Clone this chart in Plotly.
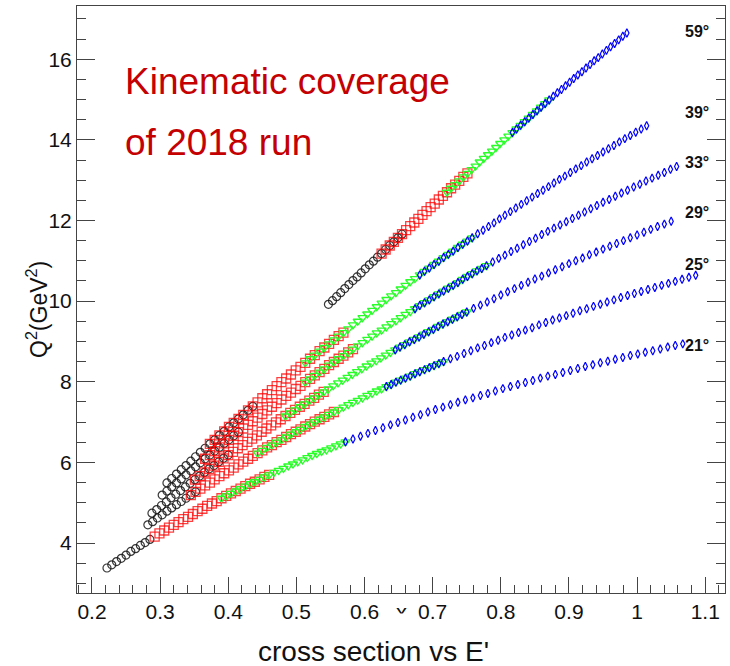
import plotly.graph_objects as go

# ---------------- data: (x, Q^2) kinematic points per spectrometer angle ----------------
angles = ["21°", "25°", "29°", "33°", "39°", "59°"]

pts_21 = [(0.222,3.38),(0.229,3.46),(0.236,3.54),(0.243,3.62),(0.250,3.70),(0.257,3.79),(0.264,3.86),(0.271,3.94),(0.278,4.01),(0.285,4.09),
          (0.292,4.16),(0.299,4.24),(0.306,4.31),(0.313,4.38),(0.320,4.45),(0.327,4.52),(0.334,4.59),(0.341,4.65),(0.348,4.72),(0.355,4.79),
          (0.362,4.85),(0.369,4.92),(0.376,4.98),(0.383,5.04),(0.390,5.11),(0.397,5.17),(0.404,5.23),(0.411,5.29),(0.418,5.35),(0.425,5.41),
          (0.432,5.47),(0.439,5.52),(0.446,5.58),(0.453,5.64),(0.460,5.69),(0.467,5.75),(0.474,5.80),(0.481,5.85),(0.488,5.91),(0.495,5.96),
          (0.502,6.01),(0.509,6.06),(0.516,6.12),(0.523,6.17),(0.530,6.22),(0.537,6.27),(0.544,6.31),(0.551,6.36),(0.558,6.41),(0.565,6.46),
          (0.572,6.51),(0.583,6.58),(0.594,6.65),(0.605,6.72),(0.616,6.79),(0.627,6.86),(0.638,6.93),(0.649,6.99),(0.660,7.05),(0.671,7.12),
          (0.682,7.18),(0.693,7.25),(0.704,7.31),(0.715,7.37),(0.726,7.43),(0.737,7.49),(0.748,7.55),(0.759,7.60),(0.770,7.66),(0.781,7.71),
          (0.792,7.77),(0.803,7.83),(0.814,7.88),(0.825,7.93),(0.836,7.98),(0.847,8.03),(0.858,8.09),(0.869,8.14),(0.880,8.18),(0.891,8.23),
          (0.902,8.28),(0.913,8.33),(0.924,8.38),(0.935,8.42),(0.946,8.47),(0.957,8.51),(0.968,8.56),(0.979,8.60),(0.990,8.65),(1.001,8.69),
          (1.012,8.73),(1.023,8.77),(1.034,8.81),(1.045,8.86),(1.056,8.90),(1.067,8.94)]

pts_25 = [(0.282,4.45),(0.289,4.53),(0.296,4.62),(0.303,4.70),(0.310,4.79),(0.317,4.87),(0.324,4.95),(0.331,5.03),(0.338,5.11),(0.345,5.19),
          (0.352,5.27),(0.359,5.35),(0.366,5.43),(0.373,5.50),(0.380,5.58),(0.387,5.66),(0.394,5.73),(0.401,5.80),(0.408,5.87),(0.415,5.95),
          (0.422,6.02),(0.429,6.09),(0.436,6.16),(0.443,6.23),(0.450,6.30),(0.457,6.37),(0.464,6.43),(0.471,6.50),(0.478,6.56),(0.485,6.63),
          (0.492,6.70),(0.499,6.76),(0.506,6.82),(0.513,6.89),(0.520,6.95),(0.527,7.01),(0.534,7.07),(0.541,7.13),(0.548,7.19),(0.555,7.25),
          (0.562,7.31),(0.569,7.37),(0.576,7.43),(0.583,7.49),(0.590,7.54),(0.597,7.60),(0.604,7.66),(0.611,7.71),(0.618,7.77),(0.625,7.82),
          (0.632,7.88),(0.639,7.93),(0.646,7.99),(0.653,8.04),(0.660,8.09),(0.667,8.14),(0.674,8.20),(0.681,8.25),(0.688,8.30),(0.695,8.35),
          (0.702,8.40),(0.709,8.45),(0.716,8.50),(0.726,8.57),(0.736,8.63),(0.746,8.70),(0.756,8.77),(0.766,8.84),(0.776,8.90),(0.786,8.97),
          (0.796,9.03),(0.806,9.10),(0.816,9.16),(0.826,9.22),(0.836,9.28),(0.846,9.34),(0.856,9.41),(0.866,9.47),(0.876,9.53),(0.886,9.58),
          (0.896,9.64),(0.906,9.70),(0.916,9.76),(0.926,9.81),(0.936,9.87),(0.946,9.92),(0.956,9.98),(0.966,10.03),(0.976,10.09),(0.986,10.14),
          (0.996,10.19),(1.006,10.24),(1.016,10.29),(1.026,10.34),(1.036,10.39),(1.046,10.44),(1.056,10.49),(1.066,10.54),(1.076,10.59),(1.086,10.64)]

pts_29 = [(0.288,4.74),(0.295,4.83),(0.302,4.93),(0.309,5.02),(0.316,5.12),(0.323,5.21),(0.330,5.30),(0.337,5.39),(0.344,5.48),(0.351,5.57),
          (0.358,5.66),(0.365,5.75),(0.372,5.84),(0.379,5.92),(0.386,6.01),(0.393,6.10),(0.400,6.18),(0.407,6.26),(0.414,6.35),(0.421,6.43),
          (0.428,6.51),(0.435,6.59),(0.442,6.67),(0.449,6.76),(0.456,6.84),(0.463,6.92),(0.470,6.99),(0.477,7.07),(0.484,7.15),(0.491,7.23),
          (0.498,7.30),(0.505,7.38),(0.512,7.45),(0.519,7.53),(0.526,7.60),(0.533,7.68),(0.540,7.75),(0.547,7.82),(0.554,7.90),(0.561,7.97),
          (0.568,8.04),(0.575,8.11),(0.582,8.18),(0.589,8.25),(0.596,8.32),(0.603,8.39),(0.610,8.46),(0.617,8.52),(0.624,8.59),(0.631,8.66),
          (0.638,8.73),(0.645,8.79),(0.652,8.86),(0.659,8.92),(0.666,8.99),(0.673,9.05),(0.680,9.11),(0.687,9.18),(0.694,9.24),(0.701,9.30),
          (0.708,9.37),(0.715,9.43),(0.722,9.49),(0.729,9.55),(0.736,9.61),(0.743,9.67),(0.750,9.73),(0.760,9.82),(0.770,9.90),(0.780,9.98),
          (0.790,10.06),(0.800,10.15),(0.810,10.23),(0.820,10.31),(0.830,10.39),(0.840,10.47),(0.850,10.55),(0.860,10.62),(0.870,10.70),(0.880,10.78),
          (0.890,10.85),(0.900,10.93),(0.910,11.00),(0.920,11.07),(0.930,11.15),(0.940,11.22),(0.950,11.29),(0.960,11.36),(0.970,11.43),(0.980,11.50),
          (0.990,11.57),(1.000,11.64),(1.010,11.71),(1.020,11.78),(1.030,11.85),(1.040,11.91),(1.050,11.98)]

pts_33 = [(0.303,5.19),(0.310,5.29),(0.317,5.39),(0.324,5.49),(0.331,5.59),(0.338,5.69),(0.345,5.79),(0.352,5.89),(0.359,5.99),(0.366,6.09),
          (0.373,6.18),(0.380,6.28),(0.387,6.37),(0.394,6.47),(0.401,6.56),(0.408,6.66),(0.415,6.75),(0.422,6.84),(0.429,6.93),(0.436,7.02),
          (0.443,7.11),(0.450,7.20),(0.457,7.29),(0.464,7.38),(0.471,7.47),(0.478,7.56),(0.485,7.65),(0.492,7.73),(0.499,7.82),(0.506,7.90),
          (0.513,7.99),(0.520,8.07),(0.527,8.16),(0.534,8.24),(0.541,8.32),(0.548,8.41),(0.555,8.49),(0.562,8.57),(0.569,8.65),(0.576,8.73),
          (0.583,8.81),(0.590,8.89),(0.597,8.97),(0.604,9.05),(0.611,9.13),(0.618,9.21),(0.625,9.28),(0.632,9.36),(0.639,9.44),(0.646,9.51),
          (0.653,9.59),(0.660,9.67),(0.667,9.74),(0.674,9.81),(0.681,9.89),(0.688,9.96),(0.695,10.03),(0.702,10.11),(0.709,10.18),(0.716,10.25),
          (0.723,10.32),(0.730,10.39),(0.737,10.46),(0.744,10.54),(0.751,10.61),(0.758,10.68),(0.765,10.75),(0.772,10.81),(0.779,10.88),(0.788,10.97),
          (0.797,11.06),(0.806,11.14),(0.815,11.23),(0.824,11.31),(0.833,11.40),(0.842,11.48),(0.851,11.56),(0.860,11.65),(0.869,11.73),(0.878,11.81),
          (0.887,11.89),(0.896,11.97),(0.905,12.05),(0.914,12.13),(0.923,12.21),(0.932,12.29),(0.941,12.37),(0.950,12.45),(0.959,12.52),(0.968,12.60),
          (0.977,12.68),(0.986,12.75),(0.995,12.83),(1.004,12.90),(1.013,12.98),(1.022,13.05),(1.031,13.12),(1.040,13.19),(1.049,13.27),(1.058,13.34)]

pts_39 = [(0.310,5.49),(0.317,5.60),(0.324,5.71),(0.331,5.82),(0.338,5.92),(0.345,6.03),(0.352,6.14),(0.359,6.25),(0.366,6.35),(0.373,6.46),
          (0.380,6.56),(0.387,6.67),(0.394,6.77),(0.401,6.88),(0.408,6.98),(0.415,7.08),(0.422,7.18),(0.429,7.29),(0.436,7.39),(0.443,7.49),
          (0.450,7.59),(0.457,7.69),(0.464,7.79),(0.471,7.89),(0.478,7.99),(0.485,8.08),(0.492,8.18),(0.499,8.28),(0.506,8.37),(0.513,8.47),
          (0.520,8.57),(0.527,8.66),(0.534,8.76),(0.541,8.85),(0.548,8.94),(0.555,9.04),(0.562,9.13),(0.569,9.22),(0.576,9.31),(0.583,9.41),
          (0.590,9.50),(0.597,9.59),(0.604,9.68),(0.611,9.77),(0.618,9.86),(0.625,9.95),(0.632,10.04),(0.639,10.13),(0.646,10.21),(0.653,10.30),
          (0.660,10.39),(0.667,10.48),(0.674,10.56),(0.681,10.65),(0.688,10.74),(0.695,10.82),(0.702,10.91),(0.709,10.99),(0.716,11.08),(0.723,11.16),
          (0.730,11.24),(0.737,11.33),(0.744,11.41),(0.751,11.49),(0.758,11.57),(0.766,11.67),(0.774,11.76),(0.782,11.85),(0.790,11.94),(0.798,12.04),
          (0.806,12.13),(0.814,12.22),(0.822,12.31),(0.830,12.40),(0.838,12.49),(0.846,12.58),(0.854,12.67),(0.862,12.75),(0.870,12.84),(0.878,12.93),
          (0.886,13.02),(0.894,13.10),(0.902,13.19),(0.910,13.28),(0.918,13.36),(0.926,13.45),(0.934,13.53),(0.942,13.61),(0.950,13.70),(0.958,13.78),
          (0.966,13.86),(0.974,13.95),(0.982,14.03),(0.990,14.11),(0.998,14.19),(1.006,14.27),(1.014,14.35)]

pts_59 = [(0.547,9.92),(0.553,10.01),(0.559,10.11),(0.565,10.21),(0.571,10.31),(0.577,10.41),(0.583,10.51),(0.589,10.60),(0.595,10.70),(0.601,10.80),
          (0.607,10.90),(0.613,10.99),(0.619,11.09),(0.625,11.18),(0.631,11.28),(0.637,11.38),(0.643,11.47),(0.649,11.57),(0.655,11.66),(0.661,11.76),
          (0.667,11.86),(0.673,11.95),(0.679,12.04),(0.685,12.14),(0.691,12.23),(0.697,12.33),(0.703,12.42),(0.709,12.52),(0.715,12.61),(0.721,12.70),
          (0.727,12.80),(0.733,12.89),(0.739,12.98),(0.745,13.08),(0.751,13.17),(0.757,13.26),(0.763,13.35),(0.769,13.45),(0.775,13.54),(0.781,13.63),
          (0.787,13.72),(0.793,13.81),(0.799,13.91),(0.805,14.00),(0.811,14.09),(0.817,14.18),(0.823,14.27),(0.829,14.36),(0.835,14.45),(0.841,14.54),
          (0.847,14.63),(0.853,14.72),(0.859,14.81),(0.865,14.90),(0.871,14.99),(0.877,15.08),(0.883,15.17),(0.889,15.25),(0.895,15.34),(0.901,15.43),
          (0.907,15.52),(0.913,15.61),(0.919,15.69),(0.925,15.78),(0.931,15.87),(0.937,15.96),(0.943,16.04),(0.949,16.13),(0.955,16.22),(0.961,16.31),
          (0.967,16.39),(0.973,16.48),(0.979,16.57),(0.985,16.65)]

points = [pts_21, pts_25, pts_29, pts_33, pts_39, pts_59]

# x coverage of each run setting, per angle (same order as `angles`)
cover_black = [(0.222, 0.288), (0.282, 0.355), (0.288, 0.400), (0.303, 0.420), (0.310, 0.440), (0.547, 0.660)]
cover_red   = [(0.288, 0.461), (0.340, 0.560), (0.350, 0.542), (0.360, 0.583), (0.370, 0.569), (0.620, 0.751)]
cover_green = [(0.385, 0.572), (0.442, 0.716), (0.479, 0.751), (0.510, 0.781), (0.510, 0.758), (0.721, 0.873)]
cover_blue  = [(0.572, 1.070), (0.627, 1.090), (0.645, 1.050), (0.674, 1.060), (0.677, 1.020), (0.814, 0.990)]

# angle labels: Q^2 where each label sits at the right edge
label_x = 1.088
label_q2 = [8.91, 10.90, 12.19, 13.43, 14.67, 16.68]

# ---------------- figure ----------------
FONT = "Liberation Sans, Arial, Helvetica, sans-serif"

styles = [
    ("black", cover_black, dict(symbol="circle-open", size=8, color="rgba(20,20,20,0.85)", line=dict(width=1.2))),
    ("red",   cover_red,   dict(symbol="square-open", size=9, color="rgba(255,0,0,0.75)", line=dict(width=1.3))),
    ("green", cover_green, dict(symbol="triangle-down-open", size=8, color="rgb(40,255,40)", line=dict(width=1.3))),
    ("blue",  cover_blue,  dict(symbol="diamond-tall-open", size=6, color="rgb(0,0,255)", line=dict(width=1.2))),
]

fig = go.Figure()
for name, cover, mk in styles:
    xs, ys = [], []
    for pts, (lo, hi) in zip(points, cover):
        for x, q in pts:
            if lo - 1e-9 <= x <= hi + 1e-9:
                xs.append(x)
                ys.append(q)
    fig.add_trace(go.Scatter(x=xs, y=ys, mode="markers", name=name, marker=mk,
                             showlegend=False, hoverinfo="skip"))

annotations = []
for a, q in zip(angles, label_q2):
    annotations.append(dict(x=label_x, y=q, xref="x", yref="y", text="<b>%s</b>" % a,
                            showarrow=False, xanchor="center", yanchor="middle",
                            font=dict(family=FONT, size=16, color="#111")))

# title block
annotations.append(dict(x=0.071, y=(593 - 81) / 587, xref="paper", yref="paper", text="Kinematic coverage",
                        showarrow=False, xanchor="left", yanchor="middle",
                        font=dict(family=FONT, size=37, color="#c40000")))
annotations.append(dict(x=0.071, y=(593 - 143) / 587, xref="paper", yref="paper", text="of 2018 run",
                        showarrow=False, xanchor="left", yanchor="middle",
                        font=dict(family=FONT, size=37, color="#c40000")))

# y axis title
annotations.append(dict(x=(37 - 77) / 648, y=(593 - 310) / 587, xref="paper", yref="paper",
                        text="Q<sup>2</sup>(GeV<sup>2</sup>)", textangle=-90, showarrow=False,
                        xanchor="center", yanchor="middle",
                        font=dict(family=FONT, size=23, color="#111")))
# x axis title, whose lower half is hidden by a small white patch
annotations.append(dict(x=0.5, y=(593 - 612) / 587, xref="paper", yref="paper", text="x",
                        showarrow=False, xanchor="center", yanchor="middle",
                        font=dict(family=FONT, size=22, color="#111")))
annotations.append(dict(x=0.5, y=(593 - 613) / 587, xref="paper", yref="paper", text="&nbsp;",
                        showarrow=False, xanchor="center", yanchor="top", width=18, height=12,
                        bgcolor="white", borderpad=0,
                        font=dict(family=FONT, size=8, color="white")))
# caption
annotations.append(dict(x=(373 - 77) / 648, y=(593 - 651) / 587, xref="paper", yref="paper",
                        text="cross section vs E'", showarrow=False, xanchor="center", yanchor="middle",
                        font=dict(family=FONT, size=28, color="#111")))

axis_common = dict(showline=True, linecolor="#444", linewidth=1, ticks="inside", tickcolor="#444",
                   tickwidth=1, showgrid=False, zeroline=False,
                   tickfont=dict(family=FONT, size=21, color="#111"))

fig.update_layout(
    width=730, height=666,
    margin=dict(l=77, r=5, t=6, b=73),
    paper_bgcolor="white", plot_bgcolor="white",
    xaxis=dict(range=[0.178, 1.129], tick0=0.2, dtick=0.1, ticklen=16, mirror=True,
               minor=dict(ticks="inside", dtick=0.02, ticklen=8, tickcolor="#444"),
               **axis_common),
    yaxis=dict(range=[2.76, 17.32], tick0=4, dtick=2, ticklen=18, mirror="ticks",
               minor=dict(ticks="inside", dtick=0.5, ticklen=9, tickcolor="#444"),
               **axis_common),
    annotations=annotations,
)

fig.write_html("out.html")
